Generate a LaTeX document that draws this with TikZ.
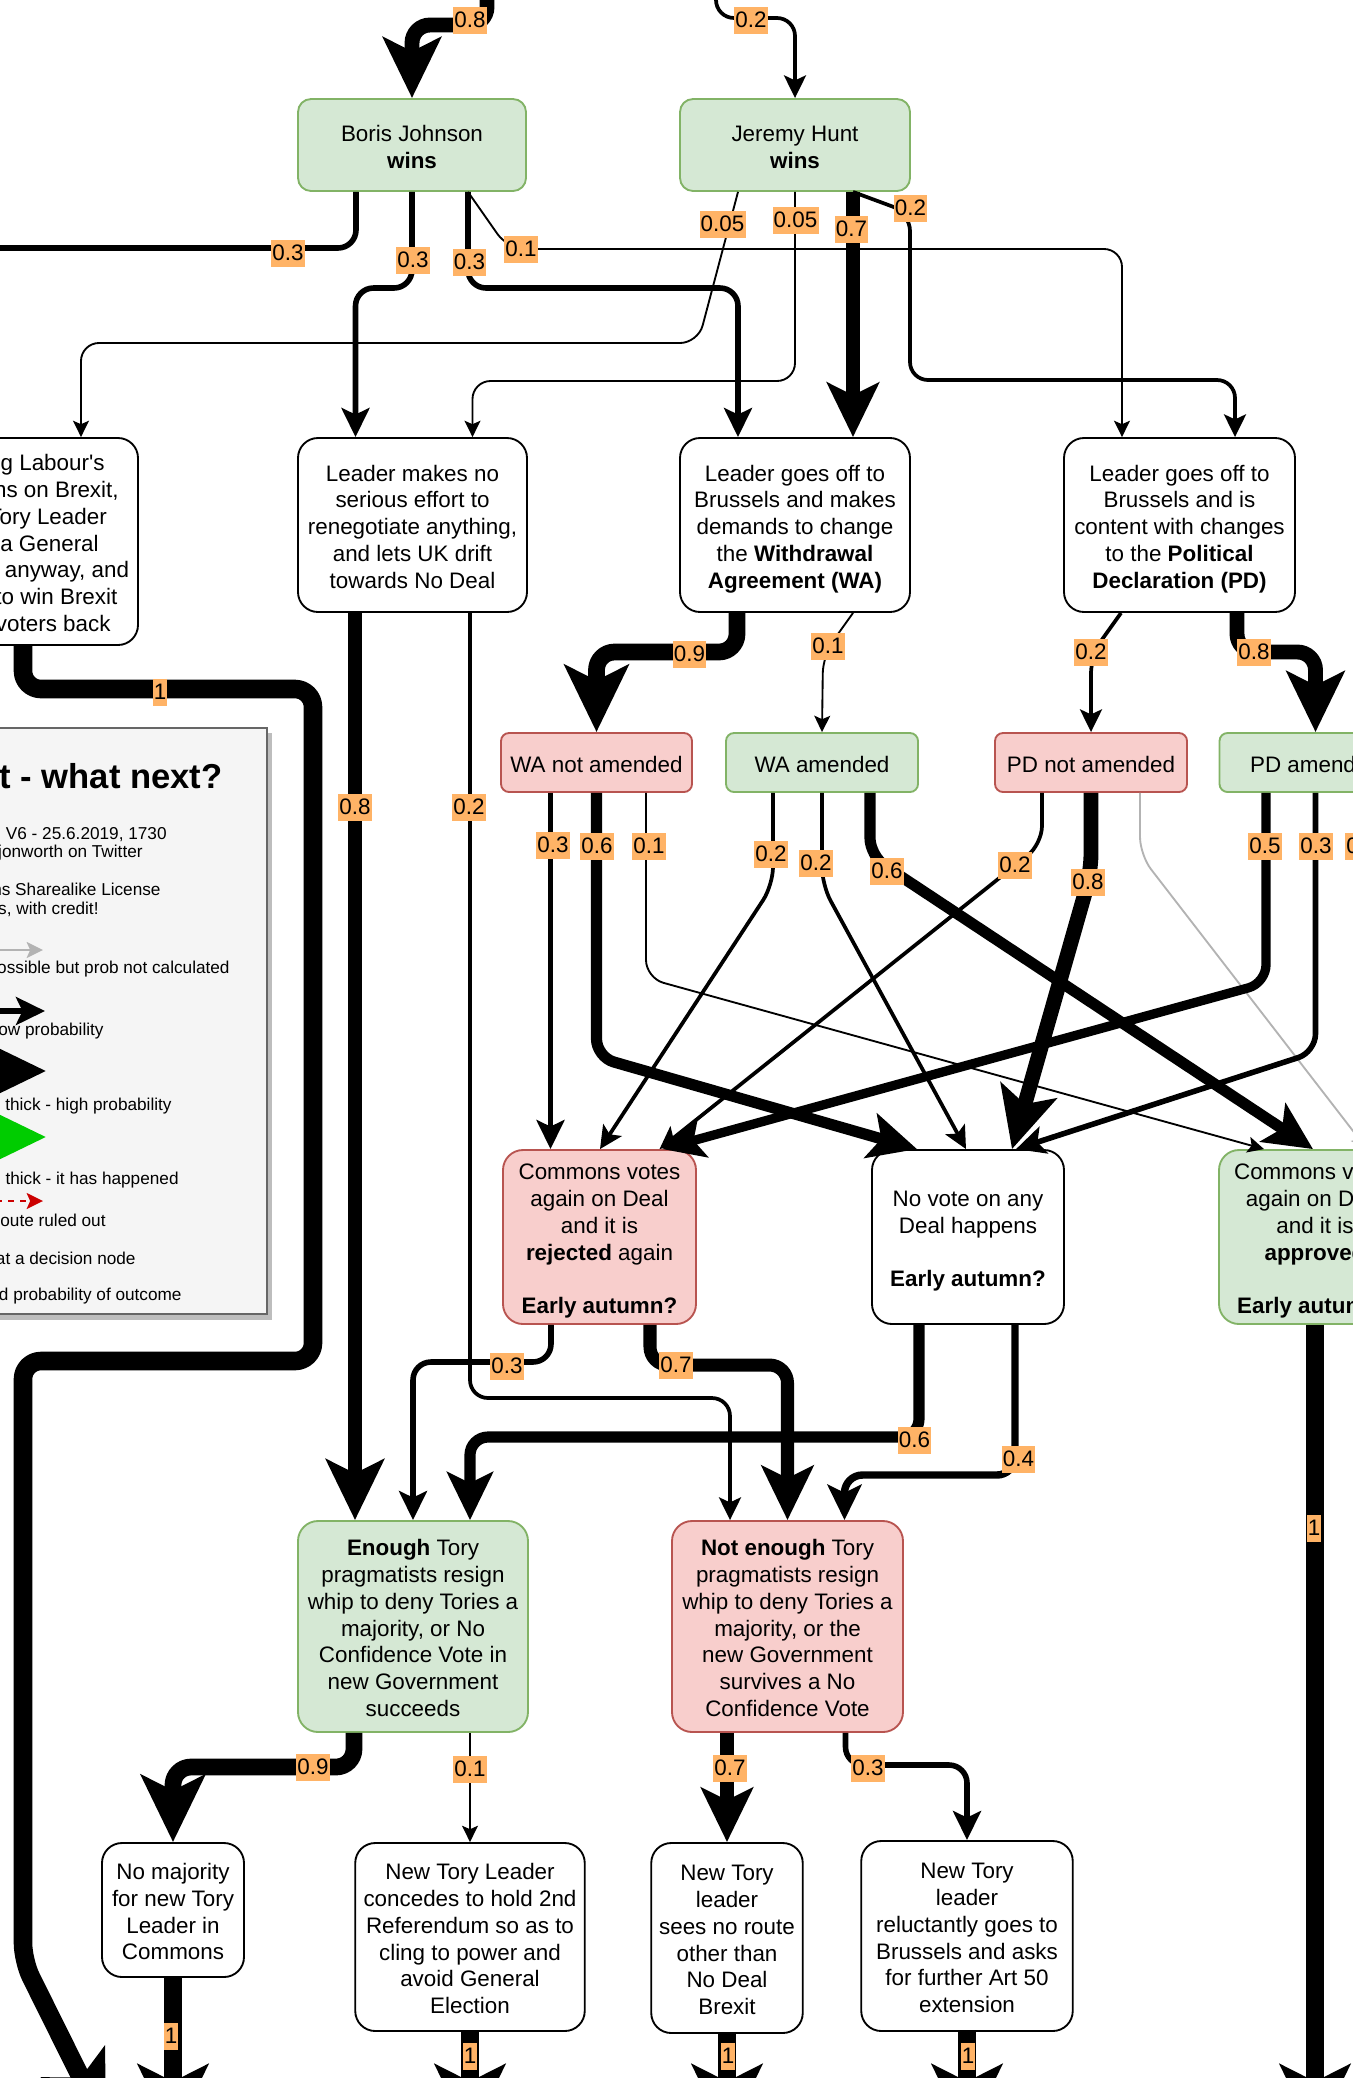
\documentclass[tikz,border=0pt]{standalone}
\usepackage{fontspec}
\setmainfont{Liberation Sans}[Ligatures=TeXOff]
\usetikzlibrary{arrows.meta,calc}
\definecolor{gfill}{HTML}{D5E8D4}
\definecolor{gline}{HTML}{82B366}
\definecolor{rfill}{HTML}{F8CECC}
\definecolor{rline}{HTML}{B85450}
\definecolor{labfill}{HTML}{FFB366}
\definecolor{legfill}{HTML}{F5F5F5}
\definecolor{legline}{HTML}{666666}
\definecolor{shadowc}{HTML}{BDBDBD}
\definecolor{greyc}{HTML}{B3B3B3}
\definecolor{happened}{HTML}{00CC00}
\definecolor{ruled}{HTML}{CC0000}
\newcommand\myfnt{\fontsize{11.2}{13.4}\selectfont}
\newcommand\mylegfnt{\fontsize{8.6}{10.3}\selectfont}
\newcommand\mytitfnt{\fontsize{17.3}{20}\selectfont\bfseries}
\newcommand\mytop{\rule{0pt}{12.4pt}}
\tikzset{
  nbase/.style={draw, rounded corners=10pt, align=center, font=\myfnt, inner sep=0pt, line width=0.93pt,
    execute at end node={\rule[-2.8pt]{0pt}{2.8pt}}},
  gbox/.style={nbase, fill=gfill, draw=gline},
  rbox/.style={nbase, fill=rfill, draw=rline},
  wbox/.style={nbase, fill=white, draw=black},
  smallbox/.style={minimum height=29.5pt, rounded corners=4pt},
  midbox/.style={minimum height=46pt, rounded corners=6.5pt},
  lab/.style={fill=labfill, inner xsep=0.6pt, inner ysep=0.25pt, text height=10pt, text depth=3pt, font=\myfnt},
  legtxt/.style={anchor=base east, inner sep=0pt, font=\mylegfnt},
  ebase/.style={rounded corners=9pt, line join=round, -{Stealth[length=5pt 3.4, width=5pt 3.2, inset=1pt 0.8]}},
  lw1/.style={ebase, line width=0.93pt},
  lw2/.style={ebase, line width=1.86pt},
  lw3/.style={ebase, line width=2.79pt},
  lw4/.style={ebase, line width=3.72pt},
  lw5/.style={ebase, line width=4.65pt},
  lw6/.style={ebase, line width=5.58pt},
  lw7/.style={ebase, line width=6.51pt},
  lw8/.style={ebase, line width=7.44pt},
  lw9/.style={ebase, line width=8.37pt},
  lw10/.style={ebase, line width=9.3pt},
  greyedge/.style={ebase, line width=0.93pt, draw=greyc},
}
\begin{document}
\begin{tikzpicture}[x=0.5pt,y=-0.5pt]
\useasboundingbox (0,0) rectangle (1353,2078);
\clip (0,0) rectangle (1353,2078);

% ---------- legend ----------
\path[fill=shadowc] (-196,733) rectangle (272,1320);
\path[fill=legfill, draw=legline, line width=0.93pt] (-200,728) rectangle (267,1314);
\node[anchor=base east, inner sep=0pt, font=\mytitfnt] (lgt) at (223,788) {Brexit - what next?};
\node[legtxt] (lg2) at (167,839) {V6 - 25.6.2019, 1730};
\node[legtxt] (lg3) at (143,857) {by @jonworth on Twitter};
\node[legtxt] (lg4) at (161,895) {Creative Commons Sharealike License};
\node[legtxt] (lg5) at (99,914) {Reuse for all purposes, with credit!};
\node[legtxt] (lg6) at (230,973) {Possible but prob not calculated};
\node[legtxt] (lg7) at (104,1035) {Thin - low probability};
\node[legtxt] (lg8) at (172,1110) {thick - high probability};
\node[legtxt] (lg9) at (179,1184) {thick - it has happened};
\node[legtxt] (lg10) at (106,1226) {Route ruled out};
\node[legtxt] (lg11) at (136,1264) {Probability at a decision node};
\node[legtxt] (lg12) at (182,1300) {Combined probability of outcome};
\coordinate (ga1) at (-100,950); \coordinate (ga2) at (43,950);
\coordinate (ba1) at (-100,1011); \coordinate (ba2) at (45,1011);
\coordinate (bb1) at (-150,1071); \coordinate (bb2) at (46,1071);
\coordinate (gb1) at (-150,1137); \coordinate (gb2) at (46,1137);
\coordinate (rd1) at (-100,1201); \coordinate (rd2) at (43,1201);
\draw[greyedge] (ga1) -- (ga2);
\draw[lw3] (ba1) -- (ba2);
\draw[lw10] (bb1) -- (bb2);
\draw[lw10, draw=happened] (gb1) -- (gb2);
\draw[lw1, draw=ruled, dash pattern=on 3pt off 3pt] (rd1) -- (rd2);

% ---------- nodes ----------
\node[gbox, midbox, minimum width=114pt] (bj) at (412,145) {\mytop Boris Johnson\\\textbf{wins}};
\node[gbox, midbox, minimum width=115pt] (jh) at (795,145) {\mytop Jeremy Hunt\\\textbf{wins}};
\node[wbox, minimum width=114pt, minimum height=103.5pt] (labourn) at (24,541.5)
  {\mytop Seeing Labour's\\positions on Brexit,\\new Tory Leader\\calls a General\\Election anyway, and\\seeks to win Brexit\\Party voters back};
\node[wbox, minimum width=114.5pt, minimum height=87pt] (lead) at (412.5,525)
  {\mytop Leader makes no\\serious effort to\\renegotiate anything,\\and lets UK drift\\towards No Deal};
\node[wbox, minimum width=115pt, minimum height=87pt] (wa) at (795,525)
  {\mytop Leader goes off to\\Brussels and makes\\demands to change\\the \textbf{Withdrawal}\\\textbf{Agreement (WA)}};
\node[wbox, minimum width=115.5pt, minimum height=87pt] (pd) at (1179.5,525)
  {\mytop Leader goes off to\\Brussels and is\\content with changes\\to the \textbf{Political}\\\textbf{Declaration (PD)}};
\node[rbox, smallbox, minimum width=95.5pt] (wanot) at (596.5,762.5) {\mytop WA not amended};
\node[gbox, smallbox, minimum width=96pt] (waam) at (822,762.5) {\mytop WA amended};
\node[rbox, smallbox, minimum width=96pt] (pdnot) at (1091,762.5) {\mytop PD not amended};
\node[gbox, smallbox, minimum width=96pt] (pdam) at (1315.5,762.5) {\mytop PD amended};
\node[rbox, minimum width=96.5pt, minimum height=87pt] (rej) at (599.5,1237)
  {\mytop Commons votes\\again on Deal\\and it is\\\textbf{rejected} again\\[13.4pt]\textbf{Early autumn?}};
\node[wbox, minimum width=96pt, minimum height=87pt] (novote) at (968,1237)
  {\mytop No vote on any\\Deal happens\\[13.4pt]\textbf{Early autumn?}};
\node[gbox, minimum width=96pt, minimum height=87pt] (appr) at (1315,1237)
  {\mytop Commons votes\\again on Deal\\and it is\\\textbf{approved}\\[13.4pt]\textbf{Early autumn?}};
\node[gbox, minimum width=115pt, minimum height=105.5pt] (enough) at (413,1626.5)
  {\mytop\textbf{Enough} Tory\\pragmatists resign\\whip to deny Tories a\\majority, or No\\Confidence Vote in\\new Government\\succeeds};
\node[rbox, minimum width=115.5pt, minimum height=105.5pt] (notenough) at (787.5,1626.5)
  {\mytop\textbf{Not enough} Tory\\pragmatists resign\\whip to deny Tories a\\majority, or the\\new Government\\survives a No\\Confidence Vote};
\node[wbox, minimum width=71pt, minimum height=67pt] (nomaj) at (173,1910)
  {\mytop No majority\\for new Tory\\Leader in\\Commons};
\node[wbox, minimum width=114.75pt, minimum height=94pt] (conc) at (470,1937)
  {\mytop New Tory Leader\\concedes to hold 2nd\\Referendum so as to\\cling to power and\\avoid General\\Election};
\node[wbox, minimum width=75.75pt, minimum height=95pt] (sees) at (727,1938)
  {\mytop New Tory\\leader\\sees no route\\other than\\No Deal\\Brexit};
\node[wbox, minimum width=105.75pt, minimum height=95pt] (reluc) at (967,1936)
  {\mytop New Tory\\leader\\reluctantly goes to\\Brussels and asks\\for further Art 50\\extension};

% ---------- free ends ----------
\coordinate (topA) at (487,-100);
\coordinate (topB) at (716,-100);
\coordinate (offL) at (-150,248);
\coordinate (endL) at (106,2128);
\coordinate (endR) at (1315,2138);
\coordinate (b1) at (173,2138);
\coordinate (b2) at (470,2138);
\coordinate (b3) at (727,2138);
\coordinate (b4) at (967,2138);

% ---------- edges ----------
\draw[lw8] (topA) -- (487,25) -| (bj.north);
\draw[lw2] (topB) -- (716,18) -| (jh.north);
\draw[lw3] ($(bj.south)+(-56,0)$) |- (offL);
\draw[lw3] (bj.south) -- (412,288) -| ($(lead.north)+(-57,0)$);
\draw[lw3] ($(bj.south)+(56,0)$) -- (468,288) -| ($(wa.north)+(-57,0)$);
\draw[lw1] ($(bj.south)+(56,0)$) -- (508,249) -| ($(pd.north)+(-57.5,0)$);
\draw[lw1] ($(jh.south)+(-57,0)$) -- (698,343) -| ($(labourn.north)+(57,0)$);
\draw[lw1] (jh.south) -- (795,381) -| ($(lead.north)+(60,0)$);
\draw[lw7] ($(jh.south)+(58,0)$) -- ($(wa.north)+(58,0)$);
\draw[lw2] ($(jh.south)+(58,0)$) -- (910,213) -- (910,380) -| ($(pd.north)+(55.5,0)$);

\draw[lw9] ($(wa.south)+(-58,0)$) -- (737,652) -| (wanot.north);
\draw[lw1] ($(wa.south)+(58,0)$) -- (823,655) -- (waam.north);
\draw[lw2] ($(pd.south)+(-58.5,0)$) -- (1091,655) -- (pdnot.north);
\draw[lw8] ($(pd.south)+(57.5,0)$) -- (1237,652) -| (pdam.north);

\draw[lw3] ($(wanot.south)+(-46,0)$) -- ($(rej.north)+(-49,0)$);
\draw[lw6] (wanot.south) -- (596.5,1057) -- ($(novote.north)+(-51,0)$);
\draw[lw1] ($(wanot.south)+(49.5,0)$) -- (646,978) -- ($(appr.north)+(-51,0)$);
\draw[lw2] ($(waam.south)+(-49,0)$) -- (773,885) -- ($(rej.north)+(0.5,0)$);
\draw[lw2] (waam.south) -- (822,885) -- ($(novote.north)+(-2,0)$);
\draw[lw6] ($(waam.south)+(48,0)$) -- (870,856) -- ($(appr.north)+(-2,0)$);
\draw[lw2] ($(pdnot.south)+(-49,0)$) -- (1042,844) -- ($(rej.north)+(60,0)$);
\draw[lw8] (pdnot.south) -- (1091,872) -- ($(novote.north)+(44,0)$);
\draw[greyedge] ($(pdnot.south)+(49,0)$) -- (1140,855) -- ($(appr.north)+(52,0)$);
\draw[lw5] ($(pdam.south)+(-49.5,0)$) -- (1266,983) -- ($(rej.north)+(63,0)$);
\draw[lw3] (pdam.south) -- (1315.5,1052) -- ($(novote.north)+(48,0)$);

\draw[lw3] ($(rej.south)+(-48.5,0)$) -- (551,1362) -| (enough.north);
\draw[lw7] ($(rej.south)+(50.5,0)$) -- (650,1365) -| (notenough.north);
\draw[lw6] ($(novote.south)+(-49,0)$) -- (919,1437) -| ($(enough.north)+(57,0)$);
\draw[lw4] ($(novote.south)+(47,0)$) -- (1015,1475) -| ($(notenough.north)+(57,0)$);
\draw[lw8] ($(lead.south)+(-57.5,0)$) -- ($(enough.north)+(-58,0)$);
\draw[lw2] ($(lead.south)+(57.5,0)$) -- (470,1398) -| ($(notenough.north)+(-57.5,0)$);
\draw[lw10] ($(labourn.south)+(-1,0)$) -- (23,689) -- (313,689) -- (313,1361) -- (23,1361) -- (23,1961) -- (endL);
\draw[lw10] (appr.south) -- (endR);

\draw[lw9] ($(enough.south)+(-59,0)$) -- (354,1767) -| (nomaj.north);
\draw[lw1] ($(enough.south)+(57,0)$) -- (conc.north);
\draw[lw7] (notenough.south -| sees.north) -- (sees.north);
\draw[lw3] ($(notenough.south)+(58,0)$) -- (845.5,1765) -| (reluc.north);

\draw[lw10] (nomaj.south) -- (b1);
\draw[lw10] (conc.south) -- (b2);
\draw[lw10] (sees.south) -- (b3);
\draw[lw10] (reluc.south) -- (b4);

% ---------- labels ----------
\node[lab] (l1) at (470,20) {0.8};
\node[lab] (l2) at (751,20) {0.2};
\node[lab] (l3) at (288,253) {0.3};
\node[lab] (l4) at (413,260) {0.3};
\node[lab] (l5) at (469.5,262) {0.3};
\node[lab] (l6) at (521,249) {0.1};
\node[lab] (l7) at (722.5,224.5) {0.05};
\node[lab] (l8) at (795.5,220.5) {0.05};
\node[lab] (l9) at (851.5,229.5) {0.7};
\node[lab] (l10) at (910.5,208.5) {0.2};
\node[lab] (l11) at (689.5,654.5) {0.9};
\node[lab] (l12) at (828,646.5) {0.1};
\node[lab] (l13) at (1091,652.5) {0.2};
\node[lab] (l14) at (1254,652.5) {0.8};
\node[lab] (l15) at (553,845) {0.3};
\node[lab] (l16) at (597,846) {0.6};
\node[lab] (l17) at (649,846) {0.1};
\node[lab] (l18) at (771,854) {0.2};
\node[lab] (l19) at (816,863) {0.2};
\node[lab] (l20) at (887,871) {0.6};
\node[lab] (l21) at (1015,865) {0.2};
\node[lab] (l22) at (1088,882) {0.8};
\node[lab] (l23) at (1265,846) {0.5};
\node[lab] (l24) at (1316,846) {0.3};
\node[lab] (l25) at (1362,846) {0.2};
\node[lab] (l26) at (507,1366) {0.3};
\node[lab] (l27) at (676,1365) {0.7};
\node[lab] (l28) at (914.5,1440) {0.6};
\node[lab] (l29) at (1018.5,1459) {0.4};
\node[lab] (l30) at (355,807) {0.8};
\node[lab] (l31) at (469,807) {0.2};
\node[lab] (l32) at (160,692) {1};
\node[lab] (l33) at (1314,1528) {1};
\node[lab] (l34) at (313,1767) {0.9};
\node[lab] (l35) at (470,1769) {0.1};
\node[lab] (l36) at (730,1768) {0.7};
\node[lab] (l37) at (868,1768) {0.3};
\node[lab] (l38) at (171,2036) {1};
\node[lab] (l39) at (470,2056) {1};
\node[lab] (l40) at (728,2056) {1};
\node[lab] (l41) at (968,2056) {1};
\end{tikzpicture}
\end{document}
